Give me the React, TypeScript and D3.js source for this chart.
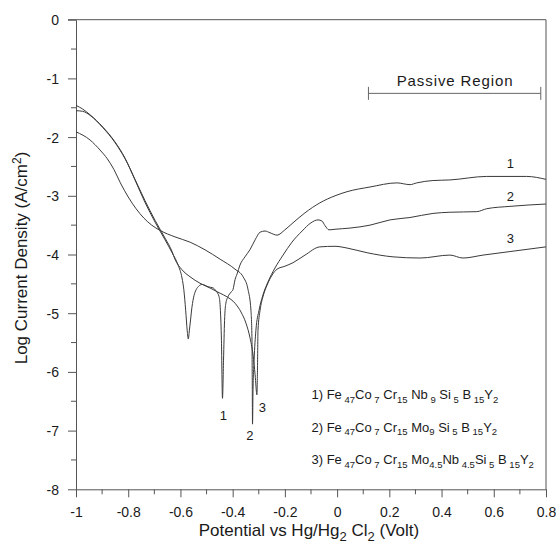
import { useEffect, useRef } from 'react';
import * as d3 from 'd3';

type Pt = [number, number];

// Fe47Co7Cr15Nb9Si5B15Y2
const curve1: Pt[] = [
  [-1.0, -1.46], [-0.975, -1.52], [-0.946, -1.62], [-0.897, -1.83], [-0.851, -2.08],
  [-0.812, -2.36], [-0.774, -2.73], [-0.736, -3.11], [-0.697, -3.45], [-0.659, -3.75],
  [-0.632, -3.97], [-0.609, -4.18], [-0.594, -4.4], [-0.587, -4.6], [-0.58, -4.95],
  [-0.574, -5.3], [-0.57, -5.44], [-0.566, -5.3], [-0.561, -5.1], [-0.556, -4.9],
  [-0.548, -4.7], [-0.54, -4.6], [-0.53, -4.54], [-0.517, -4.51], [-0.494, -4.55],
  [-0.475, -4.57], [-0.464, -4.62], [-0.452, -4.72], [-0.447, -4.95], [-0.443, -5.46],
  [-0.439, -6.45], [-0.435, -5.8], [-0.431, -5.12], [-0.426, -4.83], [-0.418, -4.72],
  [-0.406, -4.64], [-0.399, -4.6], [-0.391, -4.43], [-0.383, -4.33], [-0.372, -4.18],
  [-0.353, -4.04], [-0.334, -3.92], [-0.314, -3.75], [-0.295, -3.62], [-0.276, -3.6],
  [-0.257, -3.63], [-0.23, -3.67], [-0.2, -3.58], [-0.169, -3.46], [-0.123, -3.29],
  [-0.066, -3.12], [-0.008, -3.0], [0.038, -2.93], [0.126, -2.85], [0.229, -2.78],
  [0.279, -2.81], [0.305, -2.78], [0.367, -2.74], [0.432, -2.73], [0.573, -2.67],
  [0.726, -2.67], [0.8, -2.72],
];

// Fe47Co7Cr15Mo9Si5B15Y2
const curve2: Pt[] = [
  [-1.0, -1.91], [-0.946, -2.05], [-0.908, -2.22], [-0.88, -2.37], [-0.855, -2.55],
  [-0.83, -2.78], [-0.8, -3.02], [-0.77, -3.22], [-0.74, -3.38], [-0.71, -3.5],
  [-0.678, -3.59], [-0.621, -3.7], [-0.563, -3.79], [-0.506, -3.92], [-0.448, -4.08],
  [-0.391, -4.25], [-0.36, -4.38], [-0.341, -4.6], [-0.33, -4.95], [-0.326, -5.46],
  [-0.325, -6.14], [-0.324, -6.89], [-0.322, -6.3], [-0.318, -5.8], [-0.311, -5.29],
  [-0.299, -4.95], [-0.284, -4.69], [-0.265, -4.47], [-0.238, -4.23], [-0.207, -4.01],
  [-0.173, -3.79], [-0.134, -3.6], [-0.1, -3.46], [-0.073, -3.41], [-0.058, -3.43],
  [-0.046, -3.51], [-0.031, -3.58], [-0.008, -3.57], [0.049, -3.55], [0.126, -3.5],
  [0.203, -3.41], [0.279, -3.37], [0.367, -3.3], [0.432, -3.28], [0.535, -3.27],
  [0.573, -3.22], [0.662, -3.18], [0.8, -3.14],
];

// Fe47Co7Cr15Mo4.5Nb4.5Si5B15Y2
const curve3: Pt[] = [
  [-1.0, -1.55], [-0.975, -1.56], [-0.946, -1.63], [-0.897, -1.84], [-0.851, -2.09],
  [-0.812, -2.37], [-0.774, -2.72], [-0.736, -3.08], [-0.697, -3.42], [-0.659, -3.72],
  [-0.632, -3.95], [-0.621, -4.08], [-0.594, -4.26], [-0.563, -4.38], [-0.525, -4.49],
  [-0.487, -4.57], [-0.448, -4.66], [-0.422, -4.72], [-0.391, -4.83], [-0.368, -4.98],
  [-0.349, -5.17], [-0.334, -5.41], [-0.322, -5.71], [-0.314, -6.05], [-0.307, -6.39],
  [-0.305, -5.97], [-0.303, -5.29], [-0.295, -4.95], [-0.284, -4.72], [-0.268, -4.52],
  [-0.249, -4.35], [-0.23, -4.25], [-0.2, -4.2], [-0.169, -4.14], [-0.123, -4.01],
  [-0.066, -3.87], [-0.008, -3.86], [0.038, -3.89], [0.115, -3.97], [0.214, -4.04],
  [0.318, -4.06], [0.432, -4.01], [0.482, -4.06], [0.559, -4.01], [0.662, -3.95],
  [0.8, -3.87],
];

const xTicks = [-1, -0.8, -0.6, -0.4, -0.2, 0, 0.2, 0.4, 0.6, 0.8];
const xMinor = [-0.9, -0.7, -0.5, -0.3, -0.1, 0.1, 0.3, 0.5, 0.7];
const yTicks = [0, -1, -2, -3, -4, -5, -6, -7, -8];
const yMinor = [-0.5, -1.5, -2.5, -3.5, -4.5, -5.5, -6.5, -7.5];

const curveNames = ['1', '2', '3'];
const passiveLabel = 'Passive Region';
const passiveRange: [number, number] = [0.12, 0.78];

// legend parts: [text, subscript?]
const legend1: [string, boolean][] = [
  ['1) Fe', false], [' 47', true], ['Co', false], [' 7', true], [' Cr', false], ['15', true],
  [' Nb', false], [' 9', true], [' Si', false], [' 5', true], [' B', false], [' 15', true],
  ['Y', false], ['2', true],
];
const legend2: [string, boolean][] = [
  ['2) Fe', false], [' 47', true], ['Co', false], [' 7', true], [' Cr', false], ['15', true],
  [' Mo', false], ['9', true], [' Si', false], [' 5', true], [' B', false], [' 15', true],
  ['Y', false], ['2', true],
];
const legend3: [string, boolean][] = [
  ['3) Fe', false], [' 47', true], ['Co', false], [' 7', true], [' Cr', false], ['15', true],
  [' Mo', false], ['4.5', true], ['Nb', false], [' 4.5', true], ['Si', false], [' 5', true],
  [' B', false], [' 15', true], ['Y', false], ['2', true],
];

const xTitle: [string, boolean][] = [
  ['Potential vs Hg/Hg', false], ['2', true], [' Cl', false], ['2', true], [' (Volt)', false],
];

const FONT = "'Liberation Sans', Arial, Helvetica, sans-serif";
const AXIS = '#555';
const INK = '#1a1a1a';

const App = () => {
  const ref = useRef<SVGSVGElement | null>(null);

  useEffect(() => {
    if (!ref.current) return;
    const svg = d3.select(ref.current);
    svg.selectAll('*').remove();

    const x = d3.scaleLinear().domain([-1, 0.8]).range([76, 546]);
    const y = d3.scaleLinear().domain([-8, 0]).range([489.3, 19.7]);

    // frame (top + right)
    svg.append('line')
      .attr('x1', x(-1) - 8).attr('x2', x(0.8))
      .attr('y1', y(0)).attr('y2', y(0))
      .attr('stroke', AXIS).attr('stroke-width', 1);
    svg.append('line')
      .attr('x1', x(0.8)).attr('x2', x(0.8))
      .attr('y1', y(0)).attr('y2', y(-8))
      .attr('stroke', AXIS).attr('stroke-width', 1);

    // x axis
    const gx = svg.append('g').attr('transform', `translate(0,${y(-8)})`);
    gx.call(d3.axisBottom(x).tickValues(xTicks).tickSize(8).tickSizeOuter(0).tickFormat(d => `${d}`))
      .call(g => g.select('.domain').attr('stroke', AXIS))
      .call(g => g.selectAll('.tick line').attr('stroke', AXIS))
      .call(g => g.selectAll('.tick text')
        .attr('dy', 0).attr('y', 28)
        .style('font-family', FONT).style('font-size', '14px').style('fill', INK));
    gx.append('g').selectAll('line').data(xMinor).join('line')
      .attr('x1', d => x(d)).attr('x2', d => x(d))
      .attr('y1', 0).attr('y2', 5)
      .attr('stroke', AXIS);

    // y axis
    const gy = svg.append('g').attr('transform', `translate(${x(-1)},0)`);
    gy.call(d3.axisLeft(y).tickValues(yTicks).tickSize(8).tickSizeOuter(0).tickFormat(d => `${d}`))
      .call(g => g.select('.domain').attr('stroke', AXIS))
      .call(g => g.selectAll('.tick line').attr('stroke', AXIS))
      .call(g => g.selectAll('.tick text')
        .attr('x', -17).attr('dy', '0.36em')
        .style('font-family', FONT).style('font-size', '14px').style('fill', INK));
    gy.append('g').selectAll('line').data(yMinor).join('line')
      .attr('x1', -5).attr('x2', 0)
      .attr('y1', d => y(d)).attr('y2', d => y(d))
      .attr('stroke', AXIS);

    // curves
    const line = d3.line<Pt>()
      .x(d => x(d[0]))
      .y(d => y(d[1]))
      .curve(d3.curveMonotoneX);

    [curve1, curve2, curve3].forEach(c => {
      svg.append('path')
        .datum(c)
        .attr('d', line)
        .attr('fill', 'none')
        .attr('stroke', '#3a3a3a')
        .attr('stroke-width', 1);
    });

    const label = (txt: string, cx: number, cy: number, size = 13) =>
      svg.append('text')
        .attr('x', cx).attr('y', cy)
        .attr('text-anchor', 'middle')
        .style('font-family', FONT).style('font-size', `${size}px`).style('fill', INK)
        .text(txt);

    // labels at the corrosion potentials
    label(curveNames[0], x(-0.436), y(-6.82));
    label(curveNames[1], x(-0.334), y(-7.16));
    label(curveNames[2], x(-0.286), y(-6.68));
    // labels at the right end
    label(curveNames[0], x(0.664), y(-2.52));
    label(curveNames[1], x(0.664), y(-3.09));
    label(curveNames[2], x(0.664), y(-3.81));

    // passive region bracket
    const py = y(-1.255);
    svg.append('line')
      .attr('x1', x(passiveRange[0])).attr('x2', x(passiveRange[1]))
      .attr('y1', py).attr('y2', py)
      .attr('stroke', '#666');
    passiveRange.forEach(v => {
      svg.append('line')
        .attr('x1', x(v)).attr('x2', x(v))
        .attr('y1', py - 6.5).attr('y2', py + 6.5)
        .attr('stroke', '#666');
    });
    svg.append('text')
      .attr('x', x(0.452)).attr('y', y(-1.125))
      .attr('text-anchor', 'middle')
      .style('font-family', FONT).style('font-size', '15px').style('letter-spacing', '0.9px')
      .style('fill', INK)
      .text(passiveLabel);

    // rich text helper (with subscripts)
    const rich = (parts: [string, boolean][], tx: number, ty: number, size: number, sub: number, anchor = 'start') => {
      const t = svg.append('text')
        .attr('x', tx).attr('y', ty)
        .attr('text-anchor', anchor)
        .style('font-family', FONT).style('font-size', `${size}px`)
        .style('white-space', 'pre').style('fill', INK);
      let down = false;
      const shift = size * 0.3;
      parts.forEach(([s, isSub]) => {
        const dy = isSub && !down ? shift : !isSub && down ? -shift : 0;
        down = isSub;
        t.append('tspan')
          .attr('dy', dy)
          .style('font-size', isSub ? `${sub}px` : `${size}px`)
          .text(s);
      });
      return t;
    };

    rich(legend1, 311.5, 399, 13, 9.5);
    rich(legend2, 311.5, 431.5, 13, 9.5);
    rich(legend3, 311.5, 464, 13, 9.5);

    rich(xTitle, 309, 535.5, 17, 13, 'middle');

    // y title
    const yt = svg.append('text')
      .attr('transform', `translate(27,258) rotate(-90)`)
      .attr('text-anchor', 'middle')
      .style('font-family', FONT).style('font-size', '17px').style('fill', INK);
    yt.append('tspan').text('Log Current Density (A/cm');
    yt.append('tspan').attr('dy', -6).style('font-size', '12px').text('2');
    yt.append('tspan').attr('dy', 6).text(')');
  }, []);

  return (
    <svg
      ref={ref}
      width={556}
      height={545}
      style={{ position: 'absolute', left: 0, top: 0, background: '#fff', display: 'block' }}
    />
  );
};

export default App;
